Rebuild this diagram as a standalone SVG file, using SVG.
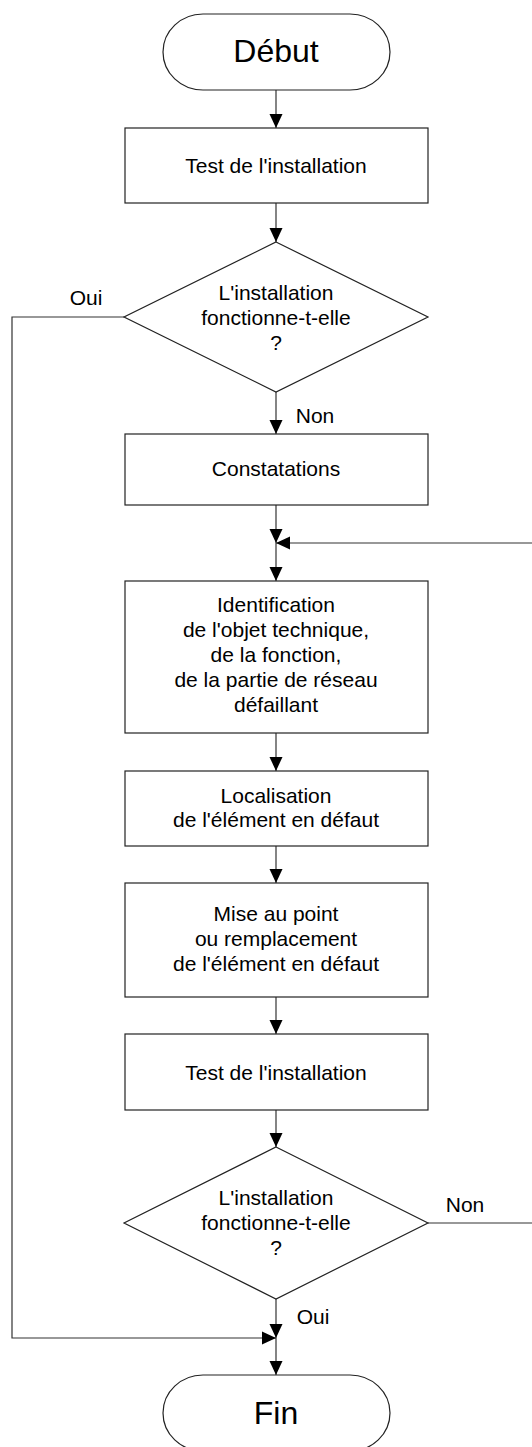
<svg xmlns="http://www.w3.org/2000/svg" width="532" height="1447" viewBox="0 0 532 1447">
<style>
.s{fill:#fff;stroke:#222;stroke-width:1.2}
.t{font-family:"Liberation Sans",Arial,sans-serif;font-size:21px;fill:#000;text-anchor:middle}
.b{font-size:32px}
.c{fill:none;stroke:#333;stroke-width:1.2}
</style>
<defs>
<marker id="a" markerUnits="userSpaceOnUse" markerWidth="14" markerHeight="14" viewBox="0 0 14 14" refX="14" refY="7" orient="auto">
<path d="M0,0.5 L14,7 L0,13.5 Z" fill="#000"/>
</marker>
</defs>
<rect width="532" height="1447" fill="#fff"/>
<g id="connectors">
<path class="c" d="M276,90 V128" marker-end="url(#a)"/>
<path class="c" d="M276,203 V242" marker-end="url(#a)"/>
<path class="c" d="M276,392 V434" marker-end="url(#a)"/>
<path class="c" d="M276,505 V543" marker-end="url(#a)"/>
<path class="c" d="M276,543 V581" marker-end="url(#a)"/>
<path class="c" d="M276,733 V771" marker-end="url(#a)"/>
<path class="c" d="M276,846 V883" marker-end="url(#a)"/>
<path class="c" d="M276,997 V1034" marker-end="url(#a)"/>
<path class="c" d="M276,1110 V1147" marker-end="url(#a)"/>
<path class="c" d="M276,1299 V1338" marker-end="url(#a)"/>
<path class="c" d="M276,1338 V1375" marker-end="url(#a)"/>
<path class="c" d="M124,317 H12 V1338 H276" marker-end="url(#a)"/>
<path class="c" d="M428,1223 H534 V543 H276" marker-end="url(#a)"/>
<text class="t" x="86" y="305">Oui</text>
<text class="t" x="315" y="423">Non</text>
<text class="t" x="465" y="1212">Non</text>
<text class="t" x="313" y="1324">Oui</text>
</g>
<g id="debut">
<rect class="s" x="163" y="14" width="227" height="76" rx="40" ry="38"/>
<text class="t b" x="276" y="62">Début</text>
</g>
<g id="test1">
<rect class="s" x="125" y="128" width="303" height="75"/>
<text class="t" x="276" y="173">Test de l'installation</text>
</g>
<g id="decision1">
<polygon class="s" points="276,242 428,317 276,392 124,317"/>
<text class="t" x="276" y="300">L'installation</text>
<text class="t" x="276" y="325">fonctionne-t-elle</text>
<text class="t" x="276" y="350">?</text>
</g>
<g id="constatations">
<rect class="s" x="125" y="434" width="303" height="71"/>
<text class="t" x="276" y="476">Constatations</text>
</g>
<g id="identification">
<rect class="s" x="125" y="581" width="303" height="152"/>
<text class="t" x="276" y="612">Identification</text>
<text class="t" x="276" y="637">de l'objet technique,</text>
<text class="t" x="276" y="662">de la fonction,</text>
<text class="t" x="276" y="687">de la partie de réseau</text>
<text class="t" x="276" y="712">défaillant</text>
</g>
<g id="localisation">
<rect class="s" x="125" y="771" width="303" height="75"/>
<text class="t" x="276" y="803">Localisation</text>
<text class="t" x="276" y="827">de l'élément en défaut</text>
</g>
<g id="miseaupoint">
<rect class="s" x="125" y="883" width="303" height="114"/>
<text class="t" x="276" y="921">Mise au point</text>
<text class="t" x="276" y="946">ou remplacement</text>
<text class="t" x="276" y="971">de l'élément en défaut</text>
</g>
<g id="test2">
<rect class="s" x="125" y="1034" width="303" height="76"/>
<text class="t" x="276" y="1080">Test de l'installation</text>
</g>
<g id="decision2">
<polygon class="s" points="276,1147 428,1223 276,1299 124,1223"/>
<text class="t" x="276" y="1205">L'installation</text>
<text class="t" x="276" y="1230">fonctionne-t-elle</text>
<text class="t" x="276" y="1255">?</text>
</g>
<g id="fin">
<rect class="s" x="163" y="1375" width="227" height="76" rx="40" ry="38"/>
<text class="t b" x="276" y="1424">Fin</text>
</g>
</svg>
